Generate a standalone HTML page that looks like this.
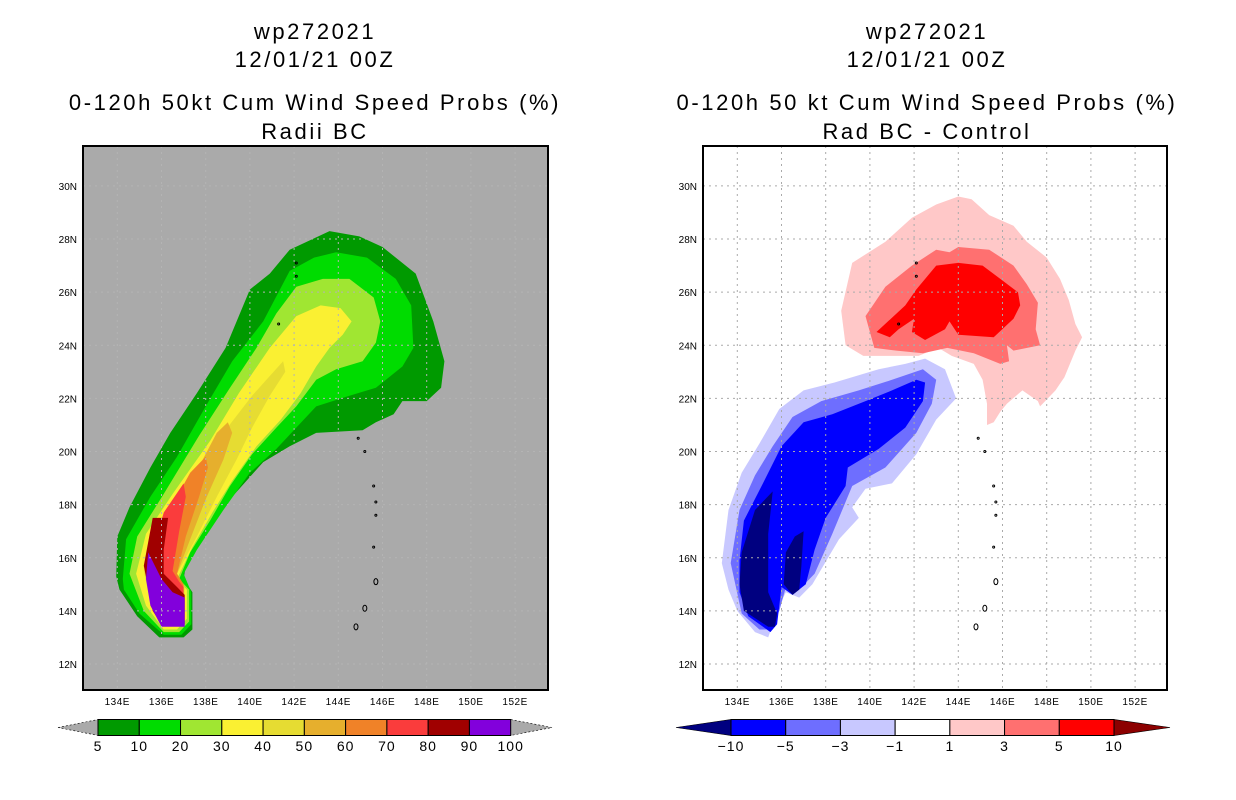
<!DOCTYPE html>
<html><head><meta charset="utf-8"><style>
html,body{margin:0;padding:0;background:#fff;}
svg{display:block;font-family:"Liberation Sans",sans-serif;}
</style></head><body>
<svg id="chart" width="1236" height="800" viewBox="0 0 1236 800" xmlns="http://www.w3.org/2000/svg">
<defs>
<clipPath id="clipL"><rect x="83" y="146" width="465" height="544"/></clipPath>
<clipPath id="clipR"><rect x="703" y="146" width="464" height="544"/></clipPath>
</defs>
<g font-size="22" letter-spacing="2.6" text-anchor="middle" fill="#000">
<text x="315" y="39">wp272021</text>
<text x="315" y="67">12/01/21 00Z</text>
<text x="315" y="110">0-120h 50kt Cum Wind Speed Probs (%)</text>
<text x="315" y="139">Radii BC</text>
</g>
<g font-size="22" letter-spacing="2.6" text-anchor="middle" fill="#000">
<text x="927" y="39">wp272021</text>
<text x="927" y="67">12/01/21 00Z</text>
<text x="927" y="110">0-120h 50 kt Cum Wind Speed Probs (%)</text>
<text x="927" y="139">Rad BC - Control</text>
</g>
<rect x="83" y="146" width="465" height="544" fill="#aaaaaa"/>
<rect x="703" y="146" width="464" height="544" fill="#ffffff"/>
<g id="leftFill" clip-path="url(#clipL)"></g>
<g id="rightFill" clip-path="url(#clipR)"></g>
<g id="grids"></g>
<g id="islands"></g>
<rect x="83" y="146" width="465" height="544" fill="none" stroke="#000" stroke-width="2"/>
<rect x="703" y="146" width="464" height="544" fill="none" stroke="#000" stroke-width="2"/>
<g id="axes" font-size="10" fill="#000"></g>
<g id="cbars"></g>
</svg>
<script>
const NS="http://www.w3.org/2000/svg";
const lonTicks=[134,136,138,140,142,144,146,148,150,152];
const latTicks=[12,14,16,18,20,22,24,26,28,30];
const probLevels=[5,10,20,30,40,50,60,70,80,90];
const probColors=['#009a00','#00dc00','#a0e632','#faf032','#e6dc32','#e6af2d','#f08228','#fa3c3c','#a00000','#8200dc'];
const probPolys=[
[[133.95,15.3],[134,16.8],[134.55,17.9],[135.5,19.4],[136.4,20.7],[137.6,22.2],[138.9,23.9],[140,26.1],[140.9,26.7],[141.8,27.6],[143.6,28.3],[144.95,28.1],[146,27.7],[147.5,26.7],[148.3,24.9],[148.8,23.4],[148.65,22.4],[148,21.9],[146.9,21.9],[146.5,21.4],[145.7,21.1],[145.1,20.8],[143,20.7],[141.8,20.2],[140.6,19.6],[139.1,18.2],[137.9,16.8],[137.1,15.7],[137,15.2],[137.4,14.7],[137.4,13.3],[137,13],[135.9,13],[134.9,13.8],[134.1,14.8]],
[[134.25,15.2],[134.4,16.7],[135.5,18.3],[136.7,19.8],[138,21.7],[139.2,23.4],[140.6,24.9],[141.8,26.8],[142.9,27.3],[143.9,27.5],[145.3,27.3],[146.6,26.5],[147.3,25.5],[147.4,23.9],[146.9,23.2],[145.7,22.4],[144.5,22.1],[143,21.7],[142.1,20.9],[141.2,20.1],[140,19.2],[138.8,17.8],[137.6,16.3],[137,15.4],[137.35,14.7],[137.35,13.5],[136.9,13.1],[136.1,13.1],[135,13.9],[134.3,14.8]],
[[134.55,15.4],[134.9,16.8],[136.1,18.4],[137.7,20.6],[139.1,22.4],[140.3,23.9],[141.2,25.2],[142.1,26.2],[143.3,26.5],[144.5,26.5],[145.6,25.8],[145.9,24.9],[145.7,24.1],[145.1,23.4],[143.9,23.1],[143,22.7],[142.1,21.7],[141.2,20.9],[140.1,19.9],[139.1,18.7],[138.2,17.4],[137.3,16.2],[136.8,15.2],[137.25,14.8],[137.25,13.6],[136.8,13.2],[136.1,13.2],[135.2,14]],
[[134.85,15.4],[135.3,16.9],[136.5,18.4],[138.2,20.4],[139.5,22.2],[140.9,23.9],[142.1,25.1],[143.2,25.5],[144.1,25.4],[144.6,24.9],[144.2,24.4],[143.6,23.9],[143,23.2],[142.3,22.2],[141.4,21.2],[140.3,20.2],[139.2,18.9],[138.3,17.7],[137.4,16.4],[136.7,15.2],[137.15,14.8],[137.15,13.7],[136.7,13.3],[136.1,13.3],[135.3,14.2]],
[[135.2,15.5],[135.7,17],[137,18.7],[138.8,20.7],[140.1,22.1],[141.5,23.4],[141.6,23],[140.9,22.1],[140.1,20.9],[139.4,19.7],[138.5,18.3],[137.6,16.8],[136.7,15.4],[137.05,14.9],[137.05,13.7],[136.7,13.5],[136.2,13.5],[135.5,14.3]],
[[135.3,15.7],[135.9,17.2],[137.3,18.8],[138.5,20.7],[139,21.1],[139.2,20.7],[138.8,19.7],[138,18.2],[137.3,16.7],[136.7,15.4],[137,14.9],[137,13.8],[136.6,13.5],[136.2,13.5],[135.5,14.4]],
[[135.5,15.8],[136.1,17.4],[137.3,19.2],[138,19.8],[138.1,19.4],[137.7,18.3],[137.1,16.8],[136.7,15.4],[137,15],[137,13.8],[136.6,13.6],[136.1,13.6],[135.5,14.5]],
[[135.5,15.9],[136.1,17.7],[137,18.8],[137.1,18.3],[136.8,17],[136.5,15.5],[136.8,15.1],[137,14.9],[137,13.8],[136.5,13.6],[136.1,13.6],[135.5,14.6]],
[[135.2,15.7],[135.6,17.5],[136.3,17.5],[136.1,16.3],[136.1,15.4],[136.7,14.9],[137.05,14.6],[137.05,13.5],[136,13.5],[135.6,14]],
[[135.4,16.2],[136,15.2],[136.5,14.7],[137.05,14.5],[137.05,13.4],[136,13.4],[135.5,14.2],[135.3,15.2]]
];
const diffLevels=['1','3','5','-1','-3','-5','-10a','-10b'];
const diffColors=['#ffc8c8','#ff7070','#ff0000','#c8c8ff','#6e6eff','#0000ff','#000080','#000080'];
const diffPolys=[
[[138.7,25.3],[139.2,27.1],[140.7,27.9],[141.9,28.8],[143,29.3],[144,29.6],[144.6,29.5],[145.4,28.9],[146.5,28.5],[147.1,27.9],[148,27.3],[148.6,26.5],[149,25.7],[149.3,24.8],[149.6,24.3],[149.3,23.8],[148.8,22.8],[148.4,22.3],[147.7,21.7],[147.6,21.9],[146.9,22.3],[146.2,21.8],[145.9,21.5],[145.6,21.1],[145.3,21],[145.3,21.8],[145.1,22.7],[144.7,23.3],[143.7,23.6],[143.1,23.9],[142.2,23.6],[141,23.6],[139.7,23.6],[138.9,24]],
[[139.8,25.1],[140.7,26.2],[141.9,27],[143,27.6],[143.6,27.5],[144,27.7],[145.4,27.6],[146.5,27],[147.1,26.3],[147.6,25.6],[147.5,24.6],[147.7,24],[146.5,23.8],[146.2,24],[146.3,23.4],[145.9,23.3],[144.7,23.7],[143.5,23.9],[142.4,23.7],[141.2,23.8],[140.2,23.9],[140,24.5]],
[[140.3,24.5],[141.6,25.5],[142.1,26.1],[143,27],[144,27.1],[145.1,27],[145.9,26.5],[146.7,26],[146.8,25.5],[146.5,25],[145.6,24.3],[144,24.4],[143.6,24.9],[143.4,24.6],[142.5,24.2],[141.9,24.5],[142,25],[141.3,24.6],[140.9,24.3]],
[[133.3,15.8],[133.6,17.8],[134.2,19.2],[135,20.3],[135.9,21.6],[137,22.3],[138.4,22.6],[140.4,23.1],[141.6,23.3],[142.5,23.5],[143.4,23.1],[143.9,22],[143,21.2],[142.1,19.9],[141,18.8],[139.8,18.6],[139.2,17.9],[139.5,17.5],[138.6,16.7],[137.4,15],[136.8,14.5],[136.2,14.7],[135.9,14.2],[135.4,13],[134.8,13.2],[134,14],[133.6,14.8]],
[[133.7,15.8],[134.1,17.8],[134.8,19.1],[135.6,20.2],[136.5,21.3],[137.8,21.9],[139.5,22.3],[141,22.7],[142.4,23.1],[143,22.7],[142.8,21.8],[142.1,20.7],[140.7,19.4],[139.2,18.7],[138.3,16.9],[137.5,15.4],[136.8,14.8],[136.2,14.9],[135.9,14],[135.5,13.3],[135,13.3],[134.2,13.9]],
[[134.1,15.9],[134.3,17.4],[135.1,18.7],[136,20.2],[137,21.1],[138.3,21.4],[139.8,21.9],[141,22.3],[142.1,22.7],[142.5,22.6],[142.4,21.9],[141.6,20.9],[140.4,20.1],[139,19.4],[138.9,18.7],[138,17.5],[137.5,16.3],[137.1,15],[136.5,14.6],[136,14.9],[135.8,13.5],[135.5,13.2],[134.5,13.8],[134.1,14.7]],
[[134.2,16.2],[134.8,17.8],[135.6,18.5],[135.4,16.9],[135.4,14.7],[135.8,13.9],[135.7,13.4],[135.4,13.4],[134.3,14],[134.1,15]],
[[136.2,16.2],[136.6,16.8],[137,17],[136.9,15.7],[136.8,14.8],[136.5,14.6],[136.1,15]]
];
const islandLons=[142.1,142.1,141.3,144.9,145.2,145.6,145.7,145.7,145.6,145.7,145.2,144.8];
const islandLats=[27.1,26.6,24.8,20.5,20.0,18.7,18.1,17.6,16.4,15.1,14.1,13.4];
const cbLeftLabels=['5','10','20','30','40','50','60','70','80','90','100'];
const cbRightColors=['#0000ff','#6e6eff','#c8c8ff','#ffffff','#ffc8c8','#ff7070','#ff0000'];
const cbRightLabels=['-10','-5','-3','-1','1','3','5','10'];

const PXLON=22.1, PXLAT=26.56;
function xL(lon){return 117.3+(lon-134)*PXLON;}
function xR(lon){return 737.3+(lon-134)*PXLON;}
function yM(lat){return 664-(lat-12)*PXLAT;}
function mk(tag,parent,attrs){const e=document.createElementNS(NS,tag);for(const k in attrs)e.setAttribute(k,attrs[k]);parent.appendChild(e);return e;}
function ptsStr(poly,xf){return poly.map(p=>xf(p[0]).toFixed(1)+','+yM(p[1]).toFixed(1)).join(' ');}

const lf=document.getElementById('leftFill');
probPolys.forEach((poly,i)=>{
  const p=mk('polygon',lf,{points:ptsStr(poly,xL),fill:probColors[i]});
  
  
});
const rf=document.getElementById('rightFill');
diffPolys.forEach((poly,i)=>{
  const p=mk('polygon',rf,{points:ptsStr(poly,xR),fill:diffColors[i]});
  
  
});
const g=document.getElementById('grids');
[[xL,83,548,'#b4b4b4'],[xR,703,1167,'#aaaaaa']].forEach(([xf,x0,x1,c],pi)=>{
  lonTicks.forEach(lon=>{const x=xf(lon);const l=mk('line',g,{x1:x,x2:x,y1:146,y2:690,stroke:c,'stroke-width':1,'stroke-dasharray':'2,4'});
    });
  latTicks.forEach(lat=>{const y=yM(lat);const l=mk('line',g,{x1:x0,x2:x1,y1:y,y2:y,stroke:c,'stroke-width':1,'stroke-dasharray':'2,4'});
    });
});
const isl=document.getElementById('islands');
[xL,xR].forEach(xf=>{islandLons.forEach((lon,i)=>{
  const e=mk('ellipse',isl,{cx:xf(lon),cy:yM(islandLats[i]),rx:(i>=9?2:1),ry:(i>=9?3:1),fill:'none',stroke:'#000','stroke-width':1});
  
});});
const ax=document.getElementById('axes');
[[xL,83],[xR,703]].forEach(([xf,x0])=>{
  lonTicks.forEach(lon=>{const t=mk('text',ax,{x:xf(lon),y:705,'text-anchor':'middle','letter-spacing':'0.5'});t.textContent=lon+'E';
    });
  latTicks.forEach(lat=>{const t=mk('text',ax,{x:x0-6,y:yM(lat)+4,'text-anchor':'end'});t.textContent=lat+'N';
    });
});
const cb=document.getElementById('cbars');
(function(){
  const x0=98,x1=510.7,y0=719.5,h=16,n=probColors.length,w=(x1-x0)/n;
  const tl=mk('polygon',cb,{points:`58,${y0+h/2} ${x0},${y0} ${x0},${y0+h}`,fill:'#aaaaaa',stroke:'#000','stroke-width':0.6,'stroke-dasharray':'2,2'});
  
  const tr=mk('polygon',cb,{points:`552,${y0+h/2} ${x1},${y0} ${x1},${y0+h}`,fill:'#aaaaaa',stroke:'#000','stroke-width':0.6,'stroke-dasharray':'2,2'});
  
  probColors.forEach((c,i)=>{const r=mk('rect',cb,{x:x0+i*w,y:y0,width:w,height:h,fill:c,stroke:'#000','stroke-width':1});
    });
  cbLeftLabels.forEach((s,i)=>{const t=mk('text',cb,{x:x0+i*w,y:751,'text-anchor':'middle','font-size':14,'letter-spacing':'1'});t.textContent=s;
    });
})();
(function(){
  const x0=731,x1=1114,y0=719.5,h=16,n=cbRightColors.length,w=(x1-x0)/n;
  const tl=mk('polygon',cb,{points:`676,${y0+h/2} ${x0},${y0} ${x0},${y0+h}`,fill:'#000080',stroke:'#000','stroke-width':0.6});
  
  const tr=mk('polygon',cb,{points:`1170,${y0+h/2} ${x1},${y0} ${x1},${y0+h}`,fill:'#8c0000',stroke:'#000','stroke-width':0.6});
  
  cbRightColors.forEach((c,i)=>{const r=mk('rect',cb,{x:x0+i*w,y:y0,width:w,height:h,fill:c,stroke:'#000','stroke-width':1});
    });
  cbRightLabels.forEach((s,i)=>{const t=mk('text',cb,{x:x0+i*w,y:751,'text-anchor':'middle','font-size':14,'letter-spacing':'1'});t.textContent=s.replace('-','\u2212');
    });
})();
</script>
</body></html>
